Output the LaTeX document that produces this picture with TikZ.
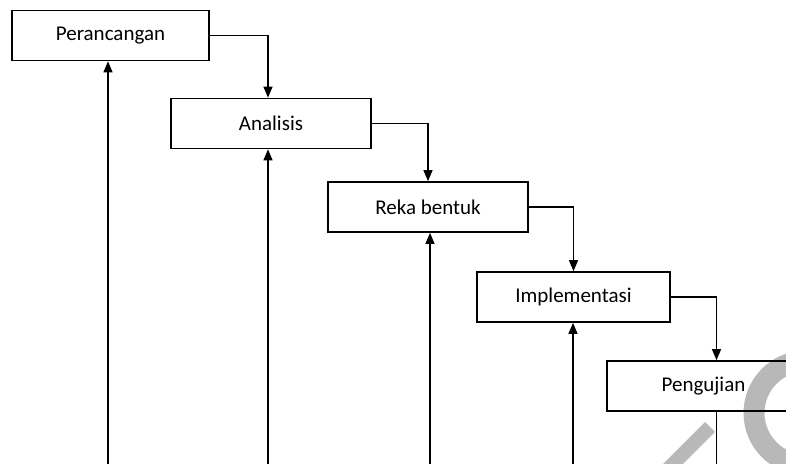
\documentclass[tikz,border=0pt]{standalone}
\usepackage{fontspec}
\setmainfont{Carlito}
\usetikzlibrary{arrows.meta}
\begin{document}
\begin{tikzpicture}[x=1pt,y=-1pt,
  stagebox/.style={draw=black,line width=1.7pt,inner sep=0pt,
    minimum height=50pt,font=\fontsize{21}{24}\selectfont},
  flow/.style={draw=black,line width=1.2pt,-{Triangle[width=9pt,length=11pt]}},
  plainline/.style={draw=black,line width=1.2pt},
  wmark/.style={draw=black!28,line cap=butt}]
\useasboundingbox (0,0) rectangle (786,463);
% watermark (behind everything)
\draw[wmark,line width=21pt] (806,413) circle[radius=52];
\draw[wmark,line width=14pt] (710,427) -- (664,473);
\node[stagebox,minimum width=197pt] (b1) at (110.5,35.5) {Perancangan};
\node[stagebox,minimum width=200pt] (b2) at (271,123.5) {Analisis};
\node[stagebox,minimum width=200pt] (b3) at (428,207) {Reka bentuk};
\node[stagebox,minimum width=193pt] (b4) at (573.5,297) {Implementasi};
\node[stagebox,minimum width=193pt] (b5) at (703.5,386) {Pengujian};
% bottom free ends
\coordinate (e1) at (108,475);
\coordinate (e2) at (268,475);
\coordinate (e3) at (430,475);
\coordinate (e4) at (573,475);
\coordinate (e5) at (716.5,475);
% downward flow
\draw[flow] (b1.east) -| ([xshift=-3pt]b2.north);
\draw[flow] (b2.east) -| (b3.north);
\draw[flow] (b3.east) -| (b4.north);
\draw[flow] (b4.east) -| ([xshift=13pt]b5.north);
% upward feedback
\draw[flow] (e1) -- (e1 |- b1.south);
\draw[flow] (e2) -- (e2 |- b2.south);
\draw[flow] (e3) -- (e3 |- b3.south);
\draw[flow] (e4) -- (e4 |- b4.south);
\draw[plainline] (e5) -- (e5 |- b5.south);
\end{tikzpicture}
\end{document}
